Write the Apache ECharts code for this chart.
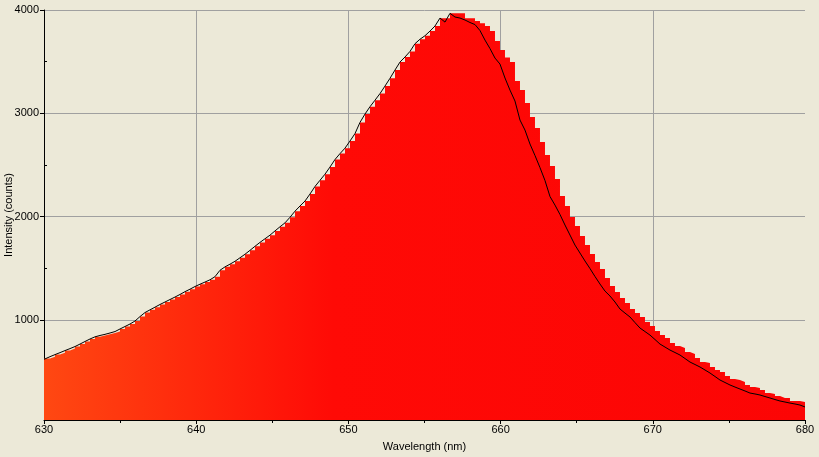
<!DOCTYPE html>
<html><head><meta charset="utf-8">
<script src="https://cdn.jsdelivr.net/npm/echarts@6/dist/echarts.min.js"></script>
<style>html,body{margin:0;padding:0;background:#ECE9D8}#c{width:819px;height:457px}</style>
</head><body><div id="c"></div>
<script>
// Axis ranges and tick labels
const X_MIN = 630, X_MAX = 680, X_STEP = 10;
const Y_MIN = 32, Y_MAX = 4000;
const Y_LABELS = [1000, 2000, 3000, 4000];
const Y_MINOR = [1500, 2500, 3500];

// Spectrum sampling grid (bin left edges, nm)
const BIN_START = 630.066, BIN_WIDTH = 0.3285;

// Measured spectrum (histogram bars), counts per bin
const counts = [
  626,645,665,684,704,723,743,767,792,816,
  837,850,861,874,888,913,937,961,990,1033,
  1072,1098,1124,1150,1174,1198,1222,1247,1274,1298,
  1324,1346,1367,1389,1419,1481,1514,1540,1568,1602,
  1636,1674,1713,1751,1786,1821,1862,1902,1940,1994,
  2053,2103,2151,2219,2292,2352,2411,2480,2553,2610,
  2663,2732,2804,2912,2993,3064,3127,3191,3264,3339,
  3419,3496,3545,3599,3674,3717,3751,3796,3845,3919,
  3919,
  3968,3968,3968,3919,3919,3893,3871,3845,3796,3700,
  3612,3540,3496,3312,3225,3100,2964,2858,2722,2596,
  2490,2364,2200,2103,1996,1909,1813,1725,1638,1561,
  1493,1406,1329,1271,1213,1164,1106,1067,1029,980,
  942,893,854,825,777,748,729,690,671,632,
  593,584,545,516,496,458,429,419,400,371,
  351,342,322,293,284,264,245,245,216,216,
  206
];

// Reference curve (black line), same grid
const reference = [
  626,645,665,684,704,723,743,767,792,816,
  837,850,861,874,888,913,937,961,990,1033,
  1072,1098,1124,1150,1174,1198,1222,1247,1274,1298,
  1324,1346,1367,1389,1419,1481,1514,1540,1568,1602,
  1636,1674,1713,1751,1786,1821,1862,1902,1940,1994,
  2053,2103,2151,2219,2292,2352,2411,2480,2553,2610,
  2663,2732,2804,2912,2993,3064,3127,3191,3264,3339,
  3419,3496,3545,3599,3674,3717,3751,3796,3845,3922,
  3883,
  3968,3932,3922,3903,3879,3859,3801,3709,3627,3535,
  3477,3342,3225,3119,2935,2838,2703,2592,2475,2350,
  2195,2112,2021,1919,1822,1725,1648,1571,1498,1421,
  1348,1280,1232,1174,1106,1067,1029,975,922,888,
  854,811,767,738,709,685,661,627,593,569,
  545,516,487,453,419,395,371,351,332,313,
  293,284,274,259,245,230,216,206,196,187,
  177
];
const REF_START = 619, REF_END = 158;

const FONT = 'Liberation Sans, Arial, sans-serif';
const wl = counts.map((_, i) => +(BIN_START + i * BIN_WIDTH).toFixed(4));
const stepData = [[X_MIN, counts[0]]]
  .concat(counts.map((v, i) => [wl[i], v]))
  .concat([[X_MAX, counts[counts.length - 1]]]);
const refData = [[X_MIN, REF_START]]
  .concat(reference.map((v, i) => [wl[i], v]))
  .concat([[X_MAX, REF_END]]);

const plain = v => String(v);
const chart = echarts.init(document.getElementById('c'), null, {renderer: 'canvas'});
chart.setOption({
  backgroundColor: '#ECE9D8',
  animation: false,
  grid: {left: 44, right: 14, top: 10, bottom: 37, containLabel: false, outerBoundsMode: 'none'},
  xAxis: {
    type: 'value', min: X_MIN, max: X_MAX, interval: X_STEP,
    name: 'Wavelength (nm)', nameLocation: 'middle', nameGap: 21, nameMoveOverlap: false,
    nameTextStyle: {color: '#000', fontSize: 11, fontFamily: FONT},
    axisLine: {lineStyle: {color: '#000', width: 1}},
    axisTick: {show: true, length: 4, lineStyle: {color: '#000'}},
    minorTick: {show: true, splitNumber: 2, length: 3, lineStyle: {color: '#000'}},
    axisLabel: {color: '#000', fontSize: 11, fontFamily: FONT, margin: 4, formatter: plain},
    splitLine: {show: true, showMinLine: false, showMaxLine: false, lineStyle: {color: '#A0A0A0', width: 1}}
  },
  yAxis: [{
    type: 'value', min: Y_MIN, max: Y_MAX,
    name: 'Intensity (counts)', nameLocation: 'middle', nameGap: 30, nameRotate: 90, nameMoveOverlap: false,
    nameTextStyle: {color: '#000', fontSize: 11, fontFamily: FONT},
    axisLine: {show: true, lineStyle: {color: '#000', width: 1}},
    axisTick: {show: true, length: 4, customValues: Y_LABELS, lineStyle: {color: '#000'}},
    axisLabel: {color: '#000', fontSize: 11, fontFamily: FONT, margin: 5, customValues: Y_LABELS, formatter: plain},
    splitLine: {show: true, lineStyle: {color: '#A0A0A0', width: 1}}
  }, {
    type: 'value', min: Y_MIN, max: Y_MAX, position: 'left',
    axisLine: {show: false},
    axisTick: {show: true, inside: true, length: 3, customValues: Y_MINOR, lineStyle: {color: '#000'}},
    axisLabel: {show: false},
    splitLine: {show: false}
  }],
  series: [{
    type: 'line', step: 'end', data: stepData, symbol: 'none', silent: true,
    lineStyle: {width: 0, opacity: 0},
    areaStyle: {
      origin: 'start', opacity: 1,
      color: new echarts.graphic.LinearGradient(0, 0, 1, 0, [
        {offset: 0, color: '#FF4812'},
        {offset: 0.38, color: '#FF0A06'},
        {offset: 1, color: '#FC0505'}
      ])
    },
    z: 2
  }, {
    type: 'line', data: refData, symbol: 'none', silent: true,
    lineStyle: {color: '#000', width: 1},
    z: 3
  }]
});
</script></body></html>
